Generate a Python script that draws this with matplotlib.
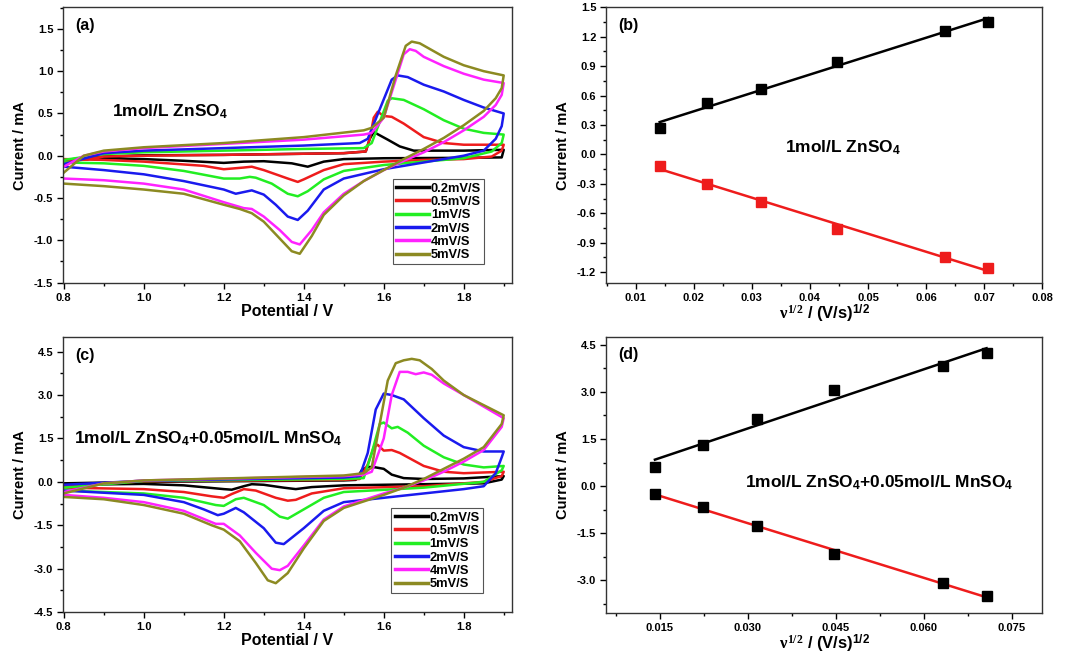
import matplotlib
matplotlib.use('Agg')
import matplotlib.pyplot as plt
import numpy as np
from matplotlib.ticker import MultipleLocator

plt.rcParams['font.family'] = ['Liberation Sans', 'DejaVu Sans']
plt.rcParams['font.weight'] = 'bold'
plt.rcParams['axes.unicode_minus'] = False
plt.rcParams['mathtext.fontset'] = 'custom'
plt.rcParams['mathtext.rm'] = 'Liberation Sans:bold'
plt.rcParams['mathtext.bf'] = 'Liberation Sans:bold'
plt.rcParams['mathtext.it'] = 'Liberation Serif'
plt.rcParams['mathtext.sf'] = 'Liberation Serif'

# scan rates, legend labels and colours
rates = ['0.2mV/S', '0.5mV/S', '1mV/S', '2mV/S', '4mV/S', '5mV/S']
colors = ['#000000', '#ee1c1c', '#22ee22', '#1a1aee', '#ff22ff', '#8c8a22']

# (a) CV loops in 1 mol/L ZnSO4: (potential V, current mA), forward then reverse scan
a_02 = [(0.8, -0.05), (0.9, -0.01), (1.0, 0.005), (1.2, 0.01), (1.5, 0.03), (1.555, 0.05),
        (1.565, 0.2), (1.575, 0.28), (1.61, 0.19), (1.64, 0.11), (1.675, 0.06), (1.8, 0.06),
        (1.9, 0.07), (1.895, -0.02), (1.8, -0.025), (1.6, -0.03), (1.5, -0.04), (1.45, -0.07),
        (1.41, -0.13), (1.37, -0.09), (1.3, -0.065), (1.25, -0.07), (1.2, -0.085), (1.1, -0.06),
        (1.0, -0.04), (0.9, -0.03), (0.8, -0.05)]
a_05 = [(0.8, -0.08), (0.9, -0.01), (1.0, 0.0), (1.2, 0.01), (1.5, 0.03), (1.555, 0.05),
        (1.565, 0.2), (1.575, 0.45), (1.585, 0.52), (1.6, 0.47), (1.62, 0.46), (1.65, 0.38),
        (1.7, 0.22), (1.75, 0.15), (1.8, 0.13), (1.9, 0.13), (1.895, 0.06), (1.87, -0.01),
        (1.8, -0.04), (1.7, -0.05), (1.6, -0.07), (1.5, -0.1), (1.45, -0.17), (1.4, -0.28),
        (1.385, -0.31), (1.36, -0.27), (1.3, -0.17), (1.27, -0.13), (1.25, -0.14), (1.2, -0.16),
        (1.15, -0.12), (1.0, -0.07), (0.9, -0.05), (0.8, -0.04)]
a_1 = [(0.8, -0.05), (0.9, 0.02), (1.0, 0.04), (1.2, 0.06), (1.4, 0.08), (1.55, 0.09),
       (1.57, 0.15), (1.59, 0.4), (1.61, 0.65), (1.62, 0.68), (1.65, 0.66), (1.7, 0.55),
       (1.75, 0.42), (1.8, 0.32), (1.85, 0.27), (1.9, 0.25), (1.895, 0.15), (1.87, 0.05),
       (1.8, -0.03), (1.7, -0.07), (1.6, -0.11), (1.5, -0.18), (1.45, -0.28), (1.41, -0.42),
       (1.385, -0.48), (1.36, -0.45), (1.32, -0.33), (1.28, -0.26), (1.265, -0.25), (1.24, -0.27),
       (1.2, -0.27), (1.1, -0.18), (1.0, -0.12), (0.9, -0.09), (0.8, -0.08)]
a_2 = [(0.8, -0.1), (0.9, 0.03), (1.0, 0.06), (1.2, 0.09), (1.4, 0.12), (1.54, 0.15),
       (1.56, 0.2), (1.59, 0.55), (1.62, 0.9), (1.635, 0.95), (1.66, 0.93), (1.7, 0.84),
       (1.75, 0.76), (1.8, 0.66), (1.85, 0.57), (1.9, 0.5), (1.895, 0.35), (1.88, 0.2),
       (1.85, 0.06), (1.8, 0.0), (1.75, -0.04), (1.7, -0.08), (1.6, -0.16), (1.5, -0.27),
       (1.45, -0.4), (1.41, -0.65), (1.385, -0.76), (1.36, -0.72), (1.33, -0.58), (1.3, -0.46),
       (1.27, -0.41), (1.25, -0.43), (1.23, -0.45), (1.2, -0.4), (1.1, -0.3), (1.0, -0.22),
       (0.9, -0.17), (0.8, -0.13)]
a_4 = [(0.8, -0.13), (0.85, 0.0), (0.9, 0.05), (1.0, 0.09), (1.2, 0.14), (1.4, 0.19),
       (1.55, 0.25), (1.57, 0.27), (1.6, 0.45), (1.63, 0.9), (1.65, 1.2), (1.665, 1.26),
       (1.68, 1.24), (1.7, 1.17), (1.75, 1.06), (1.8, 0.97), (1.85, 0.9), (1.9, 0.86),
       (1.895, 0.72), (1.88, 0.6), (1.85, 0.46), (1.8, 0.3), (1.75, 0.16), (1.7, 0.04),
       (1.65, -0.06), (1.6, -0.17), (1.55, -0.3), (1.5, -0.45), (1.45, -0.67), (1.42, -0.88),
       (1.39, -1.05), (1.37, -1.02), (1.34, -0.88), (1.3, -0.72), (1.27, -0.63), (1.25, -0.62),
       (1.2, -0.55), (1.1, -0.4), (1.0, -0.33), (0.9, -0.29), (0.8, -0.27)]
a_5 = [(0.8, -0.2), (0.85, 0.0), (0.9, 0.06), (1.0, 0.1), (1.2, 0.15), (1.4, 0.22),
       (1.55, 0.3), (1.57, 0.33), (1.6, 0.45), (1.63, 0.95), (1.655, 1.3), (1.67, 1.35),
       (1.69, 1.33), (1.72, 1.25), (1.75, 1.17), (1.8, 1.07), (1.85, 1.0), (1.9, 0.95),
       (1.895, 0.8), (1.88, 0.68), (1.85, 0.53), (1.8, 0.36), (1.75, 0.21), (1.7, 0.08),
       (1.65, -0.04), (1.6, -0.17), (1.55, -0.3), (1.5, -0.47), (1.45, -0.7), (1.42, -0.95),
       (1.39, -1.16), (1.37, -1.13), (1.34, -0.98), (1.3, -0.78), (1.27, -0.68), (1.24, -0.63),
       (1.2, -0.58), (1.1, -0.45), (1.0, -0.4), (0.9, -0.36), (0.8, -0.33)]

# (c) CV loops in 1 mol/L ZnSO4 + 0.05 mol/L MnSO4
c_02 = [(0.8, -0.05), (1.0, 0.0), (1.5, 0.05), (1.53, 0.07), (1.545, 0.4), (1.56, 0.52),
        (1.58, 0.5), (1.6, 0.45), (1.62, 0.25), (1.65, 0.13), (1.7, 0.1), (1.8, 0.12),
        (1.9, 0.2), (1.895, 0.08), (1.85, -0.05), (1.7, -0.08), (1.5, -0.12), (1.42, -0.18),
        (1.38, -0.25), (1.35, -0.2), (1.3, -0.1), (1.27, -0.08), (1.25, -0.15), (1.22, -0.27),
        (1.2, -0.25), (1.1, -0.12), (1.0, -0.07), (0.8, -0.1)]
c_05 = [(0.8, -0.15), (1.0, 0.02), (1.5, 0.07), (1.54, 0.1), (1.56, 0.6), (1.575, 1.2),
        (1.585, 1.28), (1.6, 1.08), (1.62, 1.1), (1.64, 1.0), (1.7, 0.55), (1.75, 0.35),
        (1.8, 0.3), (1.9, 0.35), (1.895, 0.2), (1.85, 0.0), (1.7, -0.15), (1.5, -0.22),
        (1.42, -0.4), (1.38, -0.62), (1.36, -0.65), (1.33, -0.55), (1.28, -0.3), (1.25, -0.25),
        (1.22, -0.42), (1.2, -0.55), (1.17, -0.5), (1.1, -0.35), (1.0, -0.25), (0.8, -0.2)]
c_1 = [(0.8, -0.2), (1.0, 0.03), (1.5, 0.1), (1.55, 0.13), (1.57, 1.0), (1.59, 2.0),
       (1.6, 2.05), (1.62, 1.85), (1.635, 1.9), (1.66, 1.7), (1.7, 1.25), (1.75, 0.85),
       (1.8, 0.6), (1.85, 0.5), (1.9, 0.55), (1.895, 0.4), (1.85, 0.0), (1.7, -0.2),
       (1.5, -0.35), (1.45, -0.55), (1.4, -0.95), (1.36, -1.27), (1.34, -1.2), (1.3, -0.8),
       (1.25, -0.55), (1.23, -0.6), (1.2, -0.83), (1.18, -0.8), (1.1, -0.55), (1.0, -0.4),
       (0.8, -0.3)]
c_2 = [(0.8, -0.1), (1.0, 0.04), (1.5, 0.15), (1.54, 0.2), (1.56, 1.0), (1.58, 2.5),
       (1.6, 3.05), (1.62, 3.0), (1.65, 2.85), (1.7, 2.2), (1.75, 1.6), (1.8, 1.2),
       (1.85, 1.05), (1.9, 1.05), (1.895, 0.85), (1.88, 0.3), (1.85, -0.15), (1.8, -0.25),
       (1.7, -0.4), (1.6, -0.55), (1.5, -0.7), (1.45, -1.0), (1.4, -1.6), (1.35, -2.15),
       (1.33, -2.1), (1.3, -1.6), (1.25, -1.05), (1.23, -0.9), (1.2, -1.1), (1.185, -1.15),
       (1.15, -0.95), (1.1, -0.7), (1.0, -0.45), (0.8, -0.3)]
c_4 = [(0.8, -0.35), (0.9, -0.05), (1.0, 0.05), (1.5, 0.2), (1.55, 0.25), (1.57, 0.35),
       (1.6, 1.5), (1.62, 3.0), (1.64, 3.8), (1.66, 3.8), (1.68, 3.72), (1.7, 3.78),
       (1.72, 3.7), (1.75, 3.4), (1.8, 3.0), (1.85, 2.6), (1.9, 2.2), (1.895, 1.9),
       (1.85, 1.1), (1.8, 0.7), (1.75, 0.35), (1.7, 0.05), (1.65, -0.2), (1.6, -0.4),
       (1.5, -0.85), (1.45, -1.3), (1.4, -2.2), (1.36, -2.9), (1.34, -3.05), (1.32, -3.0),
       (1.28, -2.45), (1.24, -1.85), (1.2, -1.45), (1.18, -1.45), (1.1, -1.0), (1.0, -0.7),
       (0.9, -0.55), (0.8, -0.45)]
c_5 = [(0.8, -0.4), (0.9, -0.05), (1.0, 0.05), (1.5, 0.22), (1.55, 0.3), (1.57, 0.5),
       (1.59, 2.0), (1.61, 3.5), (1.63, 4.1), (1.65, 4.2), (1.67, 4.25), (1.69, 4.2),
       (1.72, 3.9), (1.75, 3.5), (1.8, 3.0), (1.85, 2.65), (1.9, 2.3), (1.895, 2.0),
       (1.85, 1.2), (1.8, 0.8), (1.75, 0.45), (1.7, 0.1), (1.65, -0.2), (1.6, -0.45),
       (1.5, -0.9), (1.45, -1.35), (1.4, -2.3), (1.36, -3.15), (1.33, -3.5), (1.31, -3.4),
       (1.28, -2.8), (1.24, -2.05), (1.2, -1.65), (1.17, -1.5), (1.1, -1.1), (1.0, -0.8),
       (0.9, -0.6), (0.8, -0.52)]

# (b), (d) peak current vs square root of scan rate
sqrt_v = [0.01414, 0.02236, 0.03162, 0.04472, 0.06325, 0.07071]
b_anodic = [0.27, 0.52, 0.67, 0.94, 1.26, 1.35]
b_cathodic = [-0.12, -0.30, -0.48, -0.76, -1.05, -1.16]
d_anodic = [0.62, 1.30, 2.14, 3.07, 3.82, 4.25]
d_cathodic = [-0.25, -0.68, -1.28, -2.17, -3.07, -3.50]

fig = plt.figure(figsize=(10.77, 6.54), dpi=100)
ax_a = fig.add_axes([0.0585, 0.567, 0.417, 0.422])
ax_b = fig.add_axes([0.5627, 0.567, 0.405, 0.422])
ax_c = fig.add_axes([0.0585, 0.064, 0.417, 0.4205])
ax_d = fig.add_axes([0.5627, 0.063, 0.405, 0.422])


def style(ax, xmaj, xmin, ymaj, ymin):
    ax.xaxis.set_major_locator(MultipleLocator(xmaj))
    ax.xaxis.set_minor_locator(MultipleLocator(xmin))
    ax.yaxis.set_major_locator(MultipleLocator(ymaj))
    ax.yaxis.set_minor_locator(MultipleLocator(ymin))
    ax.tick_params(which='major', direction='out', length=4, width=1, labelsize=8, pad=3)
    ax.tick_params(which='minor', direction='out', length=2, width=1)
    for lab in ax.get_xticklabels() + ax.get_yticklabels():
        lab.set_fontweight('bold')
    for s in ax.spines.values():
        s.set_linewidth(1.0)
        s.set_color('#333333')
    ax.set_ylabel('Current / mA', fontsize=10.5, fontweight='bold', labelpad=5)


def cv_panel(ax, loops, ylim, ymaj, ymin, label, text, text_xy, leg_anchor):
    for pts, col, lab in zip(loops, colors, rates):
        arr = np.array(pts)
        ax.plot(arr[:, 0], arr[:, 1], color=col, lw=1.8, label=lab)
    ax.set_xlim(0.798, 1.921)
    ax.set_ylim(*ylim)
    style(ax, 0.2, 0.1, ymaj, ymin)
    ax.set_xlabel('Potential / V', fontsize=11.5, fontweight='bold', labelpad=1)
    ax.text(0.027, 0.935, label, transform=ax.transAxes, fontsize=11.5,
            fontweight='bold', va='center')
    ax.text(text_xy[0], text_xy[1], text, transform=ax.transAxes, fontsize=12.5,
            fontweight='bold', va='center')
    leg = ax.legend(loc='lower right', bbox_to_anchor=leg_anchor, fontsize=9.3,
                    handlelength=2.6, handletextpad=0.1, labelspacing=0.1,
                    borderpad=0.25, fancybox=False, framealpha=1, borderaxespad=0)
    leg.get_frame().set_edgecolor('#555555')
    leg.get_frame().set_linewidth(0.8)
    for t in leg.get_texts():
        t.set_fontweight('bold')
    for h in leg.get_lines():
        h.set_linewidth(2.5)


def fit_panel(ax, an, ca, ca_marker, xlim, ylim, xmaj, xmin, ymaj, ymin, label, text, text_xy):
    x = np.array(sqrt_v)
    for y, lc, mc in [(an, 'black', 'black'), (ca, '#ee1c1c', ca_marker)]:
        p = np.polyfit(x, y, 1)
        ax.plot(x[[0, -1]], np.polyval(p, x[[0, -1]]), color=lc, lw=1.8)
        ax.plot(x, y, 's', color=mc, ms=7, ls='none')
    ax.set_xlim(*xlim)
    ax.set_ylim(*ylim)
    style(ax, xmaj, xmin, ymaj, ymin)
    ax.set_xlabel(r'$\nu^{\mathsf{1/2}}$ / (V/s)$^{1/2}$', fontsize=12,
                  fontweight='bold', labelpad=0)
    ax.text(0.028, 0.935, label, transform=ax.transAxes, fontsize=11.5,
            fontweight='bold', va='center')
    ax.text(text_xy[0], text_xy[1], text, transform=ax.transAxes, fontsize=12.5,
            fontweight='bold', va='center')


cv_panel(ax_a, [a_02, a_05, a_1, a_2, a_4, a_5], (-1.508, 1.757), 0.5, 0.25, '(a)',
         r'1mol/L ZnSO$_4$', (0.11, 0.62), (0.938, 0.068))
cv_panel(ax_c, [c_02, c_05, c_1, c_2, c_4, c_5], (-4.5, 5.0), 1.5, 0.75, '(c)',
         r'1mol/L ZnSO$_4$+0.05mol/L MnSO$_4$', (0.025, 0.63), (0.935, 0.068))
fit_panel(ax_b, b_anodic, b_cathodic, '#ee1c1c', (0.0049, 0.08), (-1.312, 1.5),
          0.01, 0.005, 0.3, 0.15, '(b)', r'1mol/L ZnSO$_4$', (0.41, 0.49))
fit_panel(ax_d, d_anodic, d_cathodic, 'black', (0.0058, 0.0802), (-4.03, 4.75),
          0.015, 0.0075, 1.5, 0.75, '(d)', r'1mol/L ZnSO$_4$+0.05mol/L MnSO$_4$', (0.319, 0.47))

fig.savefig('out.png', dpi=100)
